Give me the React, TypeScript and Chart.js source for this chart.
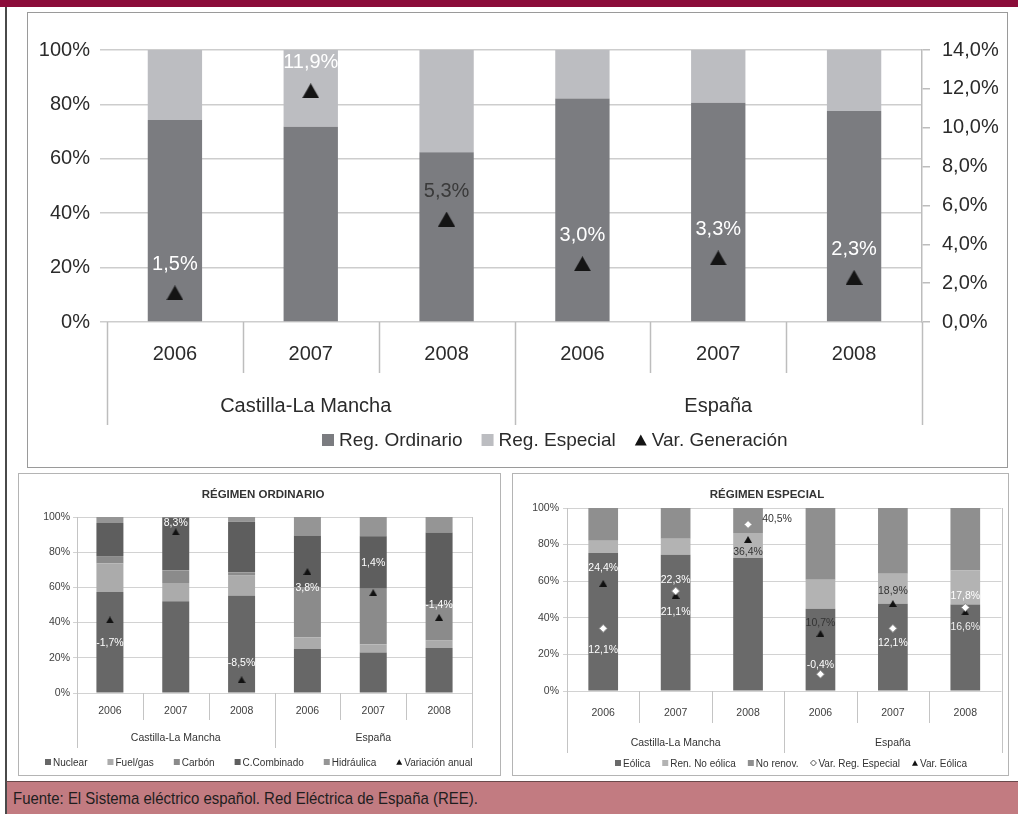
import React, { useEffect, useRef } from 'react';
import { Chart, registerables } from 'chart.js';
Chart.register(...registerables);

// ---------- DATA ----------
const years = ['2006', '2007', '2008', '2006', '2007', '2008'];
const groups = ['Castilla-La Mancha', 'España'];

// Main chart (share of generation, %)
const regOrdinario = [74.3, 71.8, 62.4, 82.2, 80.6, 77.6];
const regEspecial = [25.7, 28.2, 37.6, 17.8, 19.4, 22.4];
const varGeneracion = [1.5, 11.9, 5.3, 3.0, 3.3, 2.3];
const mainLeftTicks = ['0%', '20%', '40%', '60%', '80%', '100%'];
const mainRightTicks = ['0,0%', '2,0%', '4,0%', '6,0%', '8,0%', '10,0%', '12,0%', '14,0%'];

// Régimen ordinario (%)
const nuclear = [57.4, 52.2, 55.2, 25.0, 23.0, 25.5];
const fuelGas = [16.2, 10.3, 11.5, 6.5, 4.5, 4.5];
const carbon = [4.2, 7.2, 1.7, 28.5, 31.8, 20.5];
const cCombinado = [18.8, 30.0, 28.8, 29.5, 29.7, 40.5];
const hidraulica = [3.4, 0.3, 2.8, 10.5, 11.0, 9.0];
const variacionAnual = [-1.7, 8.3, -8.5, 3.8, 1.4, -1.4];

// Régimen especial (%)
const eolica = [75.4, 74.5, 72.7, 45.0, 47.7, 47.2];
const renNoEolica = [6.7, 8.7, 13.6, 15.8, 16.4, 18.6];
const noRenov = [17.9, 16.8, 13.7, 39.2, 35.9, 34.2];
const varRegEspecial = [12.1, 22.3, 40.5, -0.4, 12.1, 17.8];
const varEolica = [24.4, 21.1, 36.4, 10.7, 18.9, 16.6];

const smallTicks = ['0%', '20%', '40%', '60%', '80%', '100%'];

// ---------- LAYOUT / STYLE ----------
const FONT = "'Liberation Sans', Arial, sans-serif";
const pct = (v: number) => v.toFixed(1).replace('.', ',') + '%';

const ordLabelDy = [23, -9, -17, 17, -30, -12];
const espRegDx = [0, 0, 29, 0, 0, 0];
const espRegDy = [22, -11, -5, -9, 15, -11];
const espRegColor = ['#fff', '#fff', '#333', '#fff', '#fff', '#fff'];
const espEolDy = [-15, 17, 13, -10, -12, 15];
const espEolColor = ['#fff', '#fff', '#333', '#333', '#333', '#eee'];
const mainLabelColor = ['#fff', '#fff', '#3a3a3a', '#fff', '#fff', '#fff'];

// triangle marker image centred on its bounding box (like the spreadsheet marker)
function triangleImage(w: number, h: number, color: string): HTMLCanvasElement {
  const c = document.createElement('canvas');
  c.width = w;
  c.height = h;
  const g = c.getContext('2d') as CanvasRenderingContext2D;
  g.fillStyle = color;
  g.beginPath();
  g.moveTo(w / 2, 0);
  g.lineTo(w, h);
  g.lineTo(0, h);
  g.closePath();
  g.fill();
  return c;
}

function drawMarker(ctx: CanvasRenderingContext2D, kind: string, x: number, y: number, s: number, color: string) {
  ctx.save();
  if (kind === 'triangle') {
    ctx.fillStyle = color;
    ctx.beginPath();
    ctx.moveTo(x + s / 2, y - s * 0.45);
    ctx.lineTo(x + s, y + s * 0.45);
    ctx.lineTo(x, y + s * 0.45);
    ctx.closePath();
    ctx.fill();
  } else if (kind === 'diamond') {
    ctx.fillStyle = '#fff';
    ctx.strokeStyle = '#555';
    ctx.lineWidth = 1;
    ctx.beginPath();
    ctx.moveTo(x + s / 2, y - s / 2);
    ctx.lineTo(x + s, y);
    ctx.lineTo(x + s / 2, y + s / 2);
    ctx.lineTo(x, y);
    ctx.closePath();
    ctx.fill();
    ctx.stroke();
  } else {
    ctx.fillStyle = color;
    ctx.fillRect(x, y - s / 2, s, s);
  }
  ctx.restore();
}

const decorPlugin: any = {
  id: 'decor',
  afterDraw(chart: any, _args: any, o: any) {
    if (!o || !o.groups) return;
    const ctx: CanvasRenderingContext2D = chart.ctx;
    const xs = chart.scales.x;
    const area = chart.chartArea;
    const n = chart.data.labels.length;
    const step = xs.getPixelForValue(1) - xs.getPixelForValue(0);
    ctx.save();
    ctx.strokeStyle = o.lineColor;
    ctx.lineWidth = o.lineWidth;
    for (let i = 0; i <= n; i++) {
      const bx = Math.round(xs.getPixelForValue(0) - step / 2 + i * step) + 0.5;
      const isGroup = i % o.groupSize === 0;
      const y0 = o.frameFromTop && (i === 0 || i === n) ? area.top : area.bottom;
      const y1 = area.bottom + (isGroup ? o.outerLen : o.innerLen);
      ctx.beginPath();
      ctx.moveTo(bx, y0);
      ctx.lineTo(bx, y1);
      ctx.stroke();
    }
    ctx.fillStyle = o.textColor;
    ctx.font = o.groupFont;
    ctx.textAlign = 'center';
    ctx.textBaseline = 'middle';
    o.groups.forEach((g: string, gi: number) => {
      const c = (xs.getPixelForValue(gi * o.groupSize) + xs.getPixelForValue(gi * o.groupSize + o.groupSize - 1)) / 2;
      ctx.fillText(g, c + (o.groupDx ? o.groupDx[gi] : 0), area.bottom + o.groupDy);
    });
    if (o.title) {
      ctx.font = o.titleFont;
      ctx.fillText(o.title, o.titleX, o.titleY);
    }
    // legend
    ctx.font = o.legendFont;
    ctx.textAlign = 'left';
    let lx = o.legendX;
    const ly = o.legendY;
    chart.data.datasets.forEach((ds: any) => {
      const kind = ds.legendMarker || 'rect';
      drawMarker(ctx, kind, lx, ly, o.markerSize, ds.legendColor || ds.backgroundColor);
      lx += o.markerSize + o.markerGap;
      ctx.fillStyle = o.textColor;
      ctx.fillText(ds.label, lx, ly + 1);
      lx += ctx.measureText(ds.label).width + o.itemGap;
    });
    ctx.restore();
  },
};

const pointLabelPlugin: any = {
  id: 'pointLabelsCustom',
  afterDatasetsDraw(chart: any) {
    const ctx: CanvasRenderingContext2D = chart.ctx;
    chart.data.datasets.forEach((ds: any, i: number) => {
      const cfg = ds.pointLabels;
      if (!cfg) return;
      const meta = chart.getDatasetMeta(i);
      ctx.save();
      ctx.font = cfg.font;
      ctx.textAlign = 'center';
      ctx.textBaseline = 'middle';
      meta.data.forEach((el: any, j: number) => {
        ctx.fillStyle = Array.isArray(cfg.color) ? cfg.color[j] : cfg.color;
        const dx = cfg.dx ? cfg.dx[j] : 0;
        const dy = Array.isArray(cfg.dy) ? cfg.dy[j] : cfg.dy;
        ctx.fillText(pct(ds.data[j]), el.x + dx, el.y + dy);
      });
      ctx.restore();
    });
  },
};

function fixY(width: number) {
  return (s: any) => {
    s.width = width;
    s.paddingTop = 0;
    s.paddingBottom = 0;
  };
}
function fixX(height: number) {
  return (s: any) => {
    s.height = height;
    s.paddingLeft = 0;
    s.paddingRight = 0;
  };
}

function mainConfig(): any {
  const font = { family: FONT, size: 20 };
  return {
    type: 'bar',
    data: {
      labels: years,
      datasets: [
        { label: 'Reg. Ordinario', data: regOrdinario, backgroundColor: '#7B7C80', order: 2, barPercentage: 1, categoryPercentage: 0.4 },
        { label: 'Reg. Especial', data: regEspecial, backgroundColor: '#BCBDC1', order: 2, barPercentage: 1, categoryPercentage: 0.4 },
        {
          type: 'line', label: 'Var. Generación', data: varGeneracion, yAxisID: 'y1', showLine: false,
          pointStyle: triangleImage(17, 15, '#141414'), pointRadius: 9, backgroundColor: '#141414', borderColor: '#141414', order: 0,
          legendMarker: 'triangle', legendColor: '#141414',
          pointLabels: { font: `20px ${FONT}`, color: mainLabelColor, dy: -28 },
        },
      ],
    },
    options: {
      responsive: false,
      animation: false,
      devicePixelRatio: 1,
      events: [],
      layout: { padding: { top: 37, bottom: 84, left: 0, right: 0 } },
      scales: {
        x: {
          stacked: true, offset: true,
          grid: { display: false }, border: { display: false },
          ticks: { font, color: '#2b2b2b', padding: 12 },
          afterFit: fixX(60),
        },
        y: {
          stacked: true, min: 0, max: 100,
          ticks: { stepSize: 20, font, color: '#2b2b2b', padding: 10, callback: (_v: any, i: number) => mainLeftTicks[i] },
          grid: { color: '#cdcdcd', lineWidth: 1.5, tickLength: 7 },
          border: { display: false },
          afterFit: fixY(79),
        },
        y1: {
          position: 'right', min: 0, max: 14,
          ticks: { stepSize: 2, font, color: '#2b2b2b', padding: 12, callback: (_v: any, i: number) => mainRightTicks[i] },
          grid: { drawOnChartArea: false, tickLength: 8, color: '#bdbdbd', lineWidth: 1.5 },
          border: { display: true, color: '#bdbdbd', width: 1.5 },
          afterFit: fixY(84),
        },
      },
      plugins: {
        legend: { display: false },
        tooltip: { enabled: false },
        decor: {
          groups, groupSize: 3, lineColor: '#bdbdbd', lineWidth: 1.5,
          innerLen: 51, outerLen: 103, frameFromTop: false,
          textColor: '#2b2b2b', groupFont: `20px ${FONT}`, groupDy: 84, groupDx: [-5, 0],
          legendFont: `19px ${FONT}`, legendX: 294, legendY: 427, markerSize: 12, markerGap: 5, itemGap: 19,
        },
      },
    },
    plugins: [decorPlugin, pointLabelPlugin],
  };
}

function smallBase(opts: any): any {
  const font = { family: FONT, size: 10.5 };
  return {
    responsive: false,
    animation: false,
    devicePixelRatio: 1,
    events: [],
    layout: { padding: opts.padding },
    scales: {
      x: {
        stacked: true, offset: true,
        grid: { display: false }, border: { display: false },
        ticks: { font, color: '#404040', padding: opts.xPad },
        afterFit: fixX(35),
      },
      y: {
        stacked: true, min: 0, max: 100,
        ticks: { stepSize: 20, font, color: '#404040', padding: opts.yPad, callback: (_v: any, i: number) => smallTicks[i] },
        grid: { color: '#d2d2d2', lineWidth: 1, tickLength: 4 },
        border: { display: false },
        afterFit: fixY(opts.yWidth),
      },
      y2: { display: false, min: opts.y2min, max: opts.y2max },
    },
    plugins: {
      legend: { display: false },
      tooltip: { enabled: false },
      decor: {
        groups, groupSize: 3, lineColor: '#c4c4c4', lineWidth: 1,
        innerLen: opts.innerLen, outerLen: opts.outerLen, frameFromTop: true,
        textColor: '#333', groupFont: `10.5px ${FONT}`, groupDy: opts.groupDy,
        title: opts.title, titleFont: `bold 11.5px ${FONT}`, titleX: opts.titleX, titleY: 21,
        legendFont: `10px ${FONT}`, legendX: opts.legendX, legendY: opts.legendY, markerSize: 6, markerGap: 2, itemGap: opts.itemGap,
      },
    },
  };
}

function ordConfig(): any {
  const bar = (label: string, data: number[], color: string) => ({
    label, data, backgroundColor: color, order: 2, barPercentage: 1, categoryPercentage: 0.41,
  });
  return {
    type: 'bar',
    data: {
      labels: years,
      datasets: [
        bar('Nuclear', nuclear, '#676767'),
        bar('Fuel/gas', fuelGas, '#ABABAB'),
        bar('Carbón', carbon, '#8B8B8B'),
        bar('C.Combinado', cCombinado, '#5E5E5E'),
        bar('Hidráulica', hidraulica, '#959595'),
        {
          type: 'line', label: 'Variación anual', data: variacionAnual, yAxisID: 'y2', showLine: false,
          pointStyle: triangleImage(8, 7, '#111'), pointRadius: 4.5, backgroundColor: '#111', borderColor: '#111', order: 0,
          legendMarker: 'triangle', legendColor: '#111',
          pointLabels: { font: `10.5px ${FONT}`, color: '#fff', dy: ordLabelDy },
        },
      ],
    },
    options: smallBase({
      padding: { top: 43, bottom: 46, left: 0, right: 27 }, xPad: 4, yPad: 3, yWidth: 58,
      y2min: -10, y2max: 10, innerLen: 27, outerLen: 55, groupDy: 45,
      title: 'RÉGIMEN ORDINARIO', titleX: 244, legendX: 26, legendY: 288, itemGap: 20,
    }),
    plugins: [decorPlugin, pointLabelPlugin],
  };
}

function espConfig(): any {
  const bar = (label: string, data: number[], color: string) => ({
    label, data, backgroundColor: color, order: 2, barPercentage: 1, categoryPercentage: 0.41,
  });
  return {
    type: 'bar',
    data: {
      labels: years,
      datasets: [
        bar('Eólica', eolica, '#6A6A6A'),
        bar('Ren. No eólica', renNoEolica, '#B3B3B3'),
        bar('No renov.', noRenov, '#8F8F8F'),
        {
          type: 'line', label: 'Var. Reg. Especial', data: varRegEspecial, yAxisID: 'y2', showLine: false,
          pointStyle: 'rectRot', pointRadius: 4, backgroundColor: '#fff', borderColor: '#888', borderWidth: 1, order: 0,
          legendMarker: 'diamond',
          pointLabels: { font: `10.5px ${FONT}`, color: espRegColor, dx: espRegDx, dy: espRegDy },
        },
        {
          type: 'line', label: 'Var. Eólica', data: varEolica, yAxisID: 'y2', showLine: false,
          pointStyle: triangleImage(8, 7, '#111'), pointRadius: 4.5, backgroundColor: '#111', borderColor: '#111', order: 0,
          legendMarker: 'triangle', legendColor: '#111',
          pointLabels: { font: `10.5px ${FONT}`, color: espEolColor, dy: espEolDy },
        },
      ],
    },
    options: smallBase({
      padding: { top: 34, bottom: 48, left: 0, right: 2 }, xPad: 8, yPad: 4, yWidth: 54,
      y2min: -5, y2max: 45, innerLen: 32, outerLen: 62, groupDy: 52,
      title: 'RÉGIMEN ESPECIAL', titleX: 254, legendX: 102, legendY: 289, itemGap: 12,
    }),
    plugins: [decorPlugin, pointLabelPlugin],
  };
}

function ChartCanvas({ make, left, top, width, height }: any) {
  const ref = useRef<HTMLCanvasElement>(null);
  useEffect(() => {
    const chart = new Chart(ref.current as HTMLCanvasElement, make());
    return () => chart.destroy();
  }, []);
  return (
    <canvas
      ref={ref}
      width={width}
      height={height}
      style={{ position: 'absolute', left, top, width, height, display: 'block' }}
    />
  );
}

export default function App() {
  return (
    <div style={{ position: 'absolute', left: 0, top: 0, width: 1018, height: 814, background: '#fff', overflow: 'hidden' }}>
      <div style={{ position: 'absolute', left: 0, top: 0, width: 1018, height: 7, background: '#8B0D3A' }} />
      <div style={{ position: 'absolute', left: 5, top: 7, width: 2, height: 774, background: '#4a4a4a' }} />
      <div style={{ position: 'absolute', left: 27, top: 12, width: 979, height: 454, border: '1px solid #9a9a9a' }} />
      <div style={{ position: 'absolute', left: 18, top: 473, width: 481, height: 301, border: '1px solid #b4b4b4' }} />
      <div style={{ position: 'absolute', left: 512, top: 473, width: 495, height: 301, border: '1px solid #b4b4b4' }} />
      <ChartCanvas make={mainConfig} left={28} top={13} width={978} height={453} />
      <ChartCanvas make={ordConfig} left={19} top={474} width={480} height={300} />
      <ChartCanvas make={espConfig} left={513} top={474} width={494} height={300} />
      <div
        style={{
          position: 'absolute', left: 5, top: 781, width: 1013, height: 33, background: '#C27B81',
          borderTop: '1px solid #6a4a4c', borderLeft: '2px solid #4a4a4a', boxSizing: 'border-box',
        }}
      >
        <div
          style={{
            position: 'absolute', left: 6, top: 8, fontFamily: "'Liberation Sans', Arial, sans-serif",
            fontSize: 17, color: '#1e1e1e', whiteSpace: 'nowrap', lineHeight: '18px',
            transform: 'scaleX(0.88)', transformOrigin: '0 0',
          }}
        >
          Fuente: El Sistema eléctrico español. Red Eléctrica de España (REE).
        </div>
      </div>
    </div>
  );
}
